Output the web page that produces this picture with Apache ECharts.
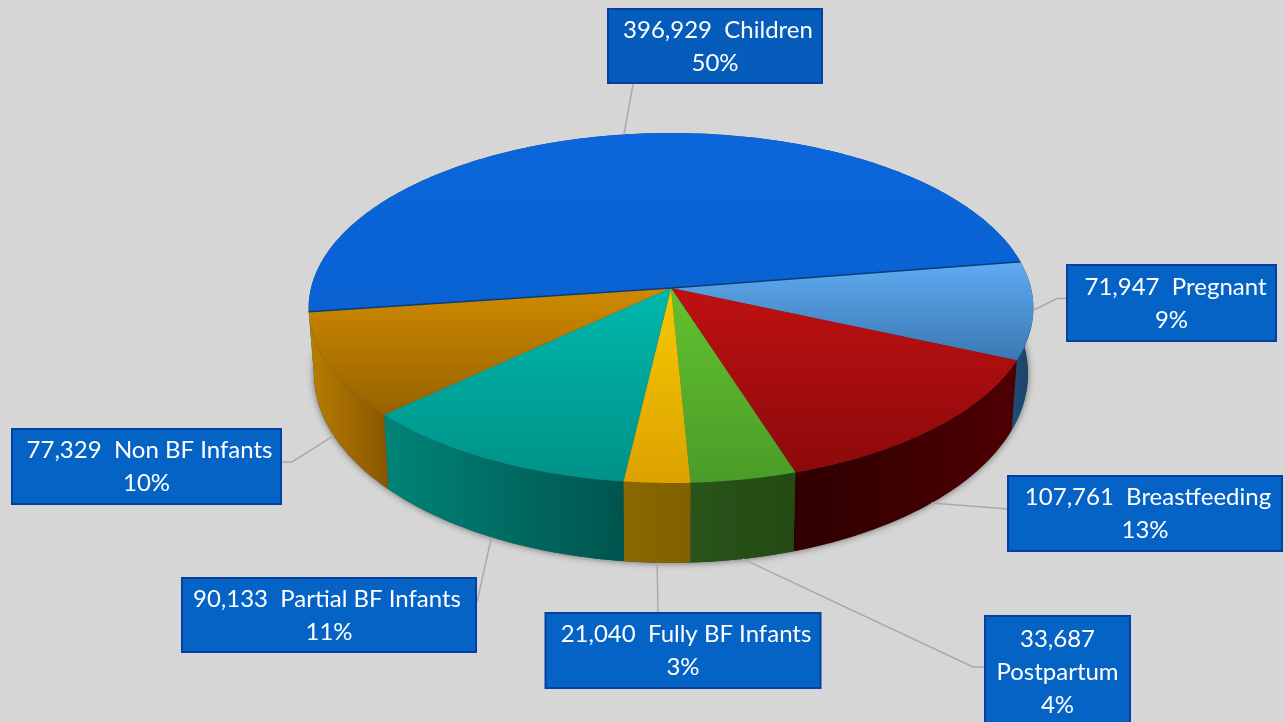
<!DOCTYPE html>
<html><head><meta charset="utf-8">
<style>html,body{margin:0;padding:0;background:#d6d6d6}#c{width:1285px;height:722px}</style>
<script src="https://cdn.jsdelivr.net/npm/echarts@6/dist/echarts.min.js"></script>
</head><body><div id="c"></div>
<script>
const categories = ['Children','Pregnant','Breastfeeding','Postpartum','Fully BF Infants','Partial BF Infants','Non BF Infants'];
const values = [396929,71947,107761,33687,21040,90133,77329];
const percentLabels = ['50%','9%','13%','4%','3%','11%','10%'];
const valueLabels = ['396,929','71,947','107,761','33,687','21,040','90,133','77,329'];

// colours: [top-start, top-end, side-left, side-right]
const colours = [
 ['#0a66da','#0a62d2','#0a4f9e','#0a4f9e'],
 ['#5fabf2','#3a78b2','#1c4f7c','#1a3e60'],
 ['#bf1012','#8c0a0a','#2e0000','#4e0004'],
 ['#62c22e','#4a9c28','#28541a','#234a12'],
 ['#f7c800','#dca200','#8a6800','#806000'],
 ['#00b8ac','#009288','#008478','#00544e'],
 ['#cf8a00','#966200','#b87e00','#885600']
];
// label boxes: [x, y, w, h], box-side leader points, first-line nudge, and whether leader starts on top rim
const boxes = [[608,9,214,74],[1067,265,209,76],[1008,476,274,75],[985,616,145,110],[545.5,613,275,75],[182,578,294,74],[12,429,269,75]];
const elbows = [[[633,84]],[[1057,298.5],[1067,298.5]],[[1008,509]],[[973,667],[985,667]],[[658,613]],[[477,602]],[[292,462],[282,462]]];
const firstLineNudge = [3,4,3,0,3,-2,3];
const fromTopRim = [true,true,false,false,false,false,false];

const apex=[671,288], R=360, S=172.7, K=0.1143, START=172.2;
const total = values.reduce((a,b)=>a+b,0);
const starts=[]; { let a=START; values.forEach(v=>{starts.push(a); a+=v/total*360;}); }
const span = i => values[i]/total*360;
function rimTop(deg){ const t=deg*Math.PI/180,u=Math.cos(t),v=Math.sin(t),w=1-K*v; return [apex[0]+R*u/w, apex[1]+S*v/w]; }
function rimBot(deg){ const p=rimTop(deg); return [apex[0]+0.985*(p[0]-apex[0]), apex[1]+64+1.081*(p[1]-apex[1])]; }
function arc(fn,a,b){ const n=Math.max(2,Math.ceil(Math.abs(b-a))),o=[]; for(let k=0;k<=n;k++) o.push(fn(a+(b-a)*k/n)); return o; }
const G=(a,b,x,y)=>new echarts.graphic.LinearGradient(0,0,x,y,[{offset:0,color:a},{offset:1,color:b}]);

function renderSide(params){
  const i=params.dataIndex,a=starts[i],b=a+span(i),c=colours[i],kids=[];
  if(i===0) kids.push({type:'polygon',shape:{points:arc(rimBot,0,360)},style:{fill:'#444',shadowBlur:7,shadowColor:'rgba(60,60,60,.75)'}});
  kids.push({type:'polygon',shape:{points:arc(rimTop,a,b).concat(arc(rimBot,b,a))},style:{fill:G(c[2],c[3],1,0)}});
  return {type:'group',children:kids};
}
function renderTop(params){
  const i=params.dataIndex,a=starts[i],b=a+span(i),c=colours[i];
  const kids=[{type:'polygon',shape:{points:[apex].concat(arc(rimTop,a,b))},style:{fill:G(c[0],c[1],0,1)}}];
  if(i===values.length-1){
    const s=starts[0],e=s+span(0);
    kids.push({type:'polyline',shape:{points:[rimTop(s),apex,rimTop(e)]},style:{fill:'none',stroke:'#0a3c78',lineWidth:1.4}});
  }
  return {type:'group',children:kids};
}
function renderLabel(params){
  const i=params.dataIndex,mid=starts[i]+span(i)/2,bx=boxes[i];
  const start=(fromTopRim[i]?rimTop:rimBot)(mid);
  const lines=i===3?[valueLabels[i],categories[i],percentLabels[i]]:[valueLabels[i]+'  '+categories[i],percentLabels[i]];
  const cx=bx[0]+bx[2]/2, lh=33, y0=(i===3?639.5:bx[1]+bx[3]/2-lh/2+0.5);
  const kids=[
    {type:'polyline',shape:{points:[start].concat(elbows[i])},style:{fill:'none',stroke:'#a9a9a9',lineWidth:1.5}},
    {type:'rect',shape:{x:bx[0],y:bx[1],width:bx[2],height:bx[3]},style:{fill:i===0?'#055cba':'#0563c6',stroke:'#04409f',lineWidth:2}}
  ];
  lines.forEach((t,k)=>kids.push({type:'text',style:{text:t,x:cx+(k===0?firstLineNudge[i]:0),y:y0+k*lh,align:'center',verticalAlign:'middle',
    fontFamily:'Lato',fontSize:24,fill:'#fff'}}));
  return {type:'group',children:kids};
}
const chart=echarts.init(document.getElementById('c'),null,{renderer:'canvas'});
const data=categories.map((n,i)=>({name:n,value:values[i]}));
chart.setOption({
  animation:false,backgroundColor:'#d6d6d6',
  series:[
    {type:'custom',coordinateSystem:'none',name:'sides',renderItem:renderSide,data,clip:false,z:1,silent:true},
    {type:'custom',coordinateSystem:'none',name:'tops',renderItem:renderTop,data,clip:false,z:2,silent:true},
    {type:'custom',coordinateSystem:'none',name:'labels',renderItem:renderLabel,data,clip:false,z:3,silent:true}
  ]
});
</script></body></html>
